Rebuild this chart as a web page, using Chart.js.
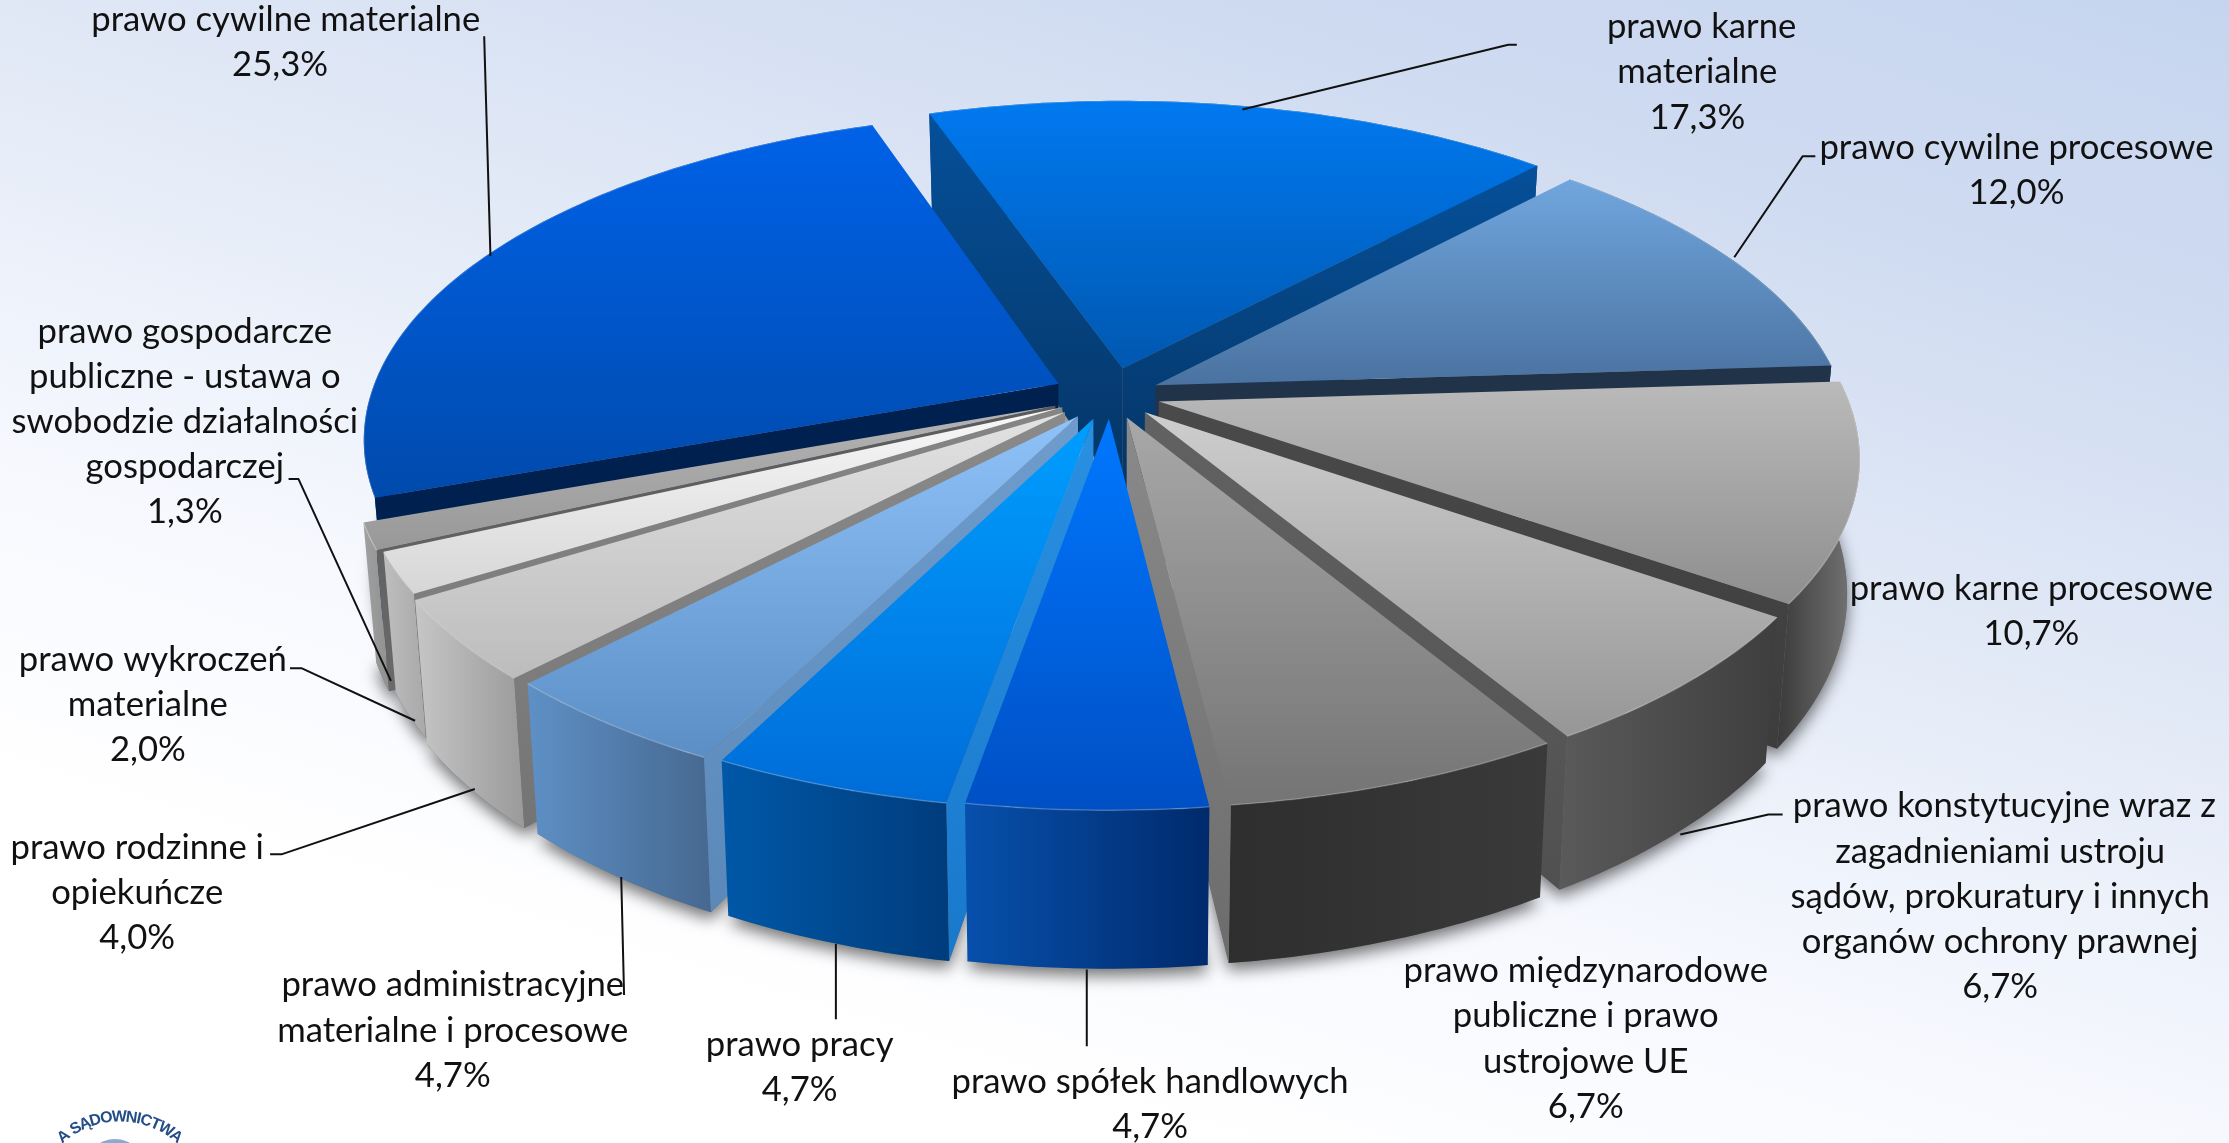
<!DOCTYPE html>
<html lang="pl"><head><meta charset="utf-8">
<style>
html,body{margin:0;padding:0;width:2229px;height:1143px;overflow:hidden;
background:linear-gradient(197deg,#c6d5ef 0%,#cfdbf1 18%,#e4ebf7 42%,#f6f8fe 62%,#ffffff 80%);}
canvas{display:block}
</style>
<script src="https://cdn.jsdelivr.net/npm/chart.js@4"></script>
</head><body><canvas id="c" width="2229" height="1143"></canvas>
<script>
const categories=["prawo karne materialne","prawo cywilne procesowe","prawo karne procesowe","prawo konstytucyjne wraz z zagadnieniami ustroju sądów, prokuratury i innych organów ochrony prawnej","prawo międzynarodowe publiczne i prawo ustrojowe UE","prawo spółek handlowych","prawo pracy","prawo administracyjne materialne i procesowe","prawo rodzinne i opiekuńcze","prawo wykroczeń materialne","prawo gospodarcze publiczne - ustawa o swobodzie działalności gospodarczej","prawo cywilne materialne"];
const values=[17.3,12.0,10.7,6.7,6.7,4.7,4.7,4.7,4.0,2.0,1.3,25.3];
const labelLines=[["prawo karne","materialne"],["prawo cywilne procesowe"],["prawo karne procesowe"],["prawo konstytucyjne wraz z","zagadnieniami ustroju","sądów, prokuratury i innych","organów ochrony prawnej"],["prawo międzynarodowe","publiczne i prawo","ustrojowe UE"],["prawo spółek handlowych"],["prawo pracy"],["prawo administracyjne","materialne i procesowe"],["prawo rodzinne i","opiekuńcze"],["prawo wykroczeń","materialne"],["prawo gospodarcze","publiczne - ustawa o","swobodzie działalności","gospodarczej"],["prawo cywilne materialne"]];
// styles
const topColors=[["#0079F0","#0058B0"],["#70A6DE","#4A72A0"],["#BABABA","#8E8E8E"],["#CECECE","#969696"],["#A8A8A8","#747474"],["#0078FF","#004FC4"],["#009EFF","#006CD8"],["#8EC2F8","#5C8EC6"],["#E2E2E2","#BCBCBC"],["#F8F8F8","#D6D6D6"],["#B4B4B4","#989898"],["#0062E8","#004AAC"]];
const wallColors=[["#004A90","#003A70"],["#203349","#203349"],["#3A3A3A","#7A7A7A"],["#5A5A5A","#3E3E3E"],["#2E2E2E","#3A3A3A"],["#0750AC","#002A6C"],["#0058A8","#003C7C"],["#5E90C6","#466890"],["#C6C6C6","#9A9A9A"],["#BEBEBE","#A8A8A8"],["#A0A0A0","#909090"],["#0040A0","#003080"]];
const cutColors=[["#05509A","#053463"],["#203349","#22344A"],["#4A4A4A","#3C3C3C"],["#626262","#505050"],["#8A8A8A","#6C6C6C"],["#5C7080","#8A8A8A"],["#2A90E2","#1878CC"],["#6E9CCC","#5A88B8"],["#8A8A8A","#747474"],["#858585","#787878"],["#5A5A5A","#6A6A6A"],["#00214F","#00214F"]];
const sliceOffsets=[48,40,40,40,40,40,42,44,46,43,47,46];
// layout (in a 1568-wide reference frame)
const K=2229/1568;
const view={cx:781,cy:278,rx:484,ry:224.5,persp:0.163,depth:92,converge:0.017};
const labelPos=[[1194,19],[1418.5,104],[1429,414],[1407,567],[1115.5,683],[809,761],[562.5,735],[318.5,693],[96.5,596],[104,464],[130,233],[197,14]];
const firstLineShift=[3,0,0,3,0,0,0,0,0,3.5,0,4];
const lineStep=31.8;
const leaders=[[[1067,31.5],[1061,31.5],[874,77]],[[1277,110],[1268,110],[1220,181]],null,[[1254,573],[1244,573],[1182,587]],null,[[764.5,682],[764.5,736]],[[588,664],[588,717]],[[437,617],[439,700]],[[190,601],[198,601],[334,555]],[[204,470],[212,470],[292,507]],[[203,337],[210,337],[275,479]],[[340.6,25.5],[345,180]]];

function project(u,v,z){
  const w=1/(1-view.persp*v), c=1-view.converge*z;
  return [(view.cx+view.rx*u*w*c)*K,(view.cy+view.ry*v*w+view.depth*z*w)*K];
}
function pathOf(ctx,pts){ctx.beginPath();pts.forEach((p,i)=>i?ctx.lineTo(p[0],p[1]):ctx.moveTo(p[0],p[1]));ctx.closePath();}
function vGrad(ctx,pts,cols,horizontal){
  const a=horizontal?0:1, vals=pts.map(p=>p[a]), lo=Math.min(...vals), hi=Math.max(...vals);
  const g=horizontal?ctx.createLinearGradient(lo,0,hi+1,0):ctx.createLinearGradient(0,lo,0,hi+1);
  g.addColorStop(0,cols[0]);g.addColorStop(1,cols[1]);return g;
}
function sliceGeom(el,i){
  const p=el.getProps(['startAngle','endAngle','outerRadius']);
  const R=p.outerRadius, o=(el.options.offset||0)/R, mid=(p.startAngle+p.endAngle)/2;
  const ox=Math.cos(mid)*o, oy=Math.sin(mid)*o, n=Math.max(8,Math.ceil((p.endAngle-p.startAngle)*60));
  const rim=[];
  for(let k=0;k<=n;k++){const a=p.startAngle+(p.endAngle-p.startAngle)*k/n;rim.push([Math.cos(a)+ox,Math.sin(a)+oy]);}
  return {i,mid,ox,oy,rim,depth:Math.sin(mid),a0:p.startAngle,a1:p.endAngle};
}
const pie3d={
  id:'pie3d',
  beforeDatasetDraw(chart,args){
    const ctx=chart.ctx, slices=chart.getDatasetMeta(args.index).data.map(sliceGeom);
    // soft ground shadow
    ctx.save();ctx.shadowColor='rgba(0,0,0,0.55)';ctx.shadowBlur=16;ctx.shadowOffsetY=7;ctx.shadowOffsetX=0;ctx.fillStyle='#777';
    slices.forEach(s=>{
      const b=[project(s.ox,s.oy,1),...s.rim.map(q=>project(q[0],q[1],1))];
      pathOf(ctx,b);ctx.fill();
    });
    ctx.restore();
    const camV=1/view.persp;
    [...slices].sort((a,b)=>a.depth-b.depth).forEach(s=>{
      const i=s.i, first=s.rim[0], last=s.rim[s.rim.length-1];
      const quad=q=>[project(s.ox,s.oy,0),project(q[0],q[1],0),project(q[0],q[1],1),project(s.ox,s.oy,1)];
      const wall=[...s.rim.map(q=>project(q[0],q[1],0)),...[...s.rim].reverse().map(q=>project(q[0],q[1],1))];
      pathOf(ctx,wall);ctx.fillStyle=vGrad(ctx,wall,wallColors[i],true);ctx.fill();
      // each cut face is painted only when it looks towards the viewer
      const startFaces=Math.sin(s.a0)*(-s.ox)-Math.cos(s.a0)*(camV-s.oy)>0;
      const endFaces=-Math.sin(s.a1)*(-s.ox)+Math.cos(s.a1)*(camV-s.oy)>0;
      if(startFaces){const pts=quad(first);pathOf(ctx,pts);ctx.fillStyle=vGrad(ctx,pts,cutColors[i]);ctx.fill();}
      if(endFaces){const pts=quad(last);pathOf(ctx,pts);ctx.fillStyle=vGrad(ctx,pts,cutColors[i]);ctx.fill();}
      const top=[project(s.ox,s.oy,0),...s.rim.map(q=>project(q[0],q[1],0))];
      pathOf(ctx,top);ctx.fillStyle=vGrad(ctx,top,topColors[i]);ctx.fill();
      ctx.beginPath();s.rim.forEach((q,k)=>{const p=project(q[0],q[1],0);k?ctx.lineTo(p[0],p[1]):ctx.moveTo(p[0],p[1]);});
      ctx.strokeStyle='rgba(255,255,255,0.22)';ctx.lineWidth=1.5;ctx.stroke();
    });
    return false;
  },
  afterDraw(chart){
    const ctx=chart.ctx;
    ctx.save();
    ctx.strokeStyle='#111';ctx.lineWidth=2;ctx.lineJoin='round';
    leaders.forEach(l=>{if(!l)return;ctx.beginPath();l.forEach((p,k)=>k?ctx.lineTo(p[0]*K,p[1]*K):ctx.moveTo(p[0]*K,p[1]*K));ctx.stroke();});
    ctx.font='35px Lato';ctx.textAlign='center';ctx.textBaseline='middle';ctx.fillStyle='#111';
    const squeeze=389/ctx.measureText('prawo cywilne materialne').width;
    labelLines.forEach((ls,i)=>{
      const all=[...ls,values[i].toFixed(1).replace('.',',')+'%'];
      all.forEach((t,k)=>{
        const w=ctx.measureText(t).width*squeeze;
        const x=labelPos[i][0]+(k===0?firstLineShift[i]:0);
        ctx.fillText(t,x*K,(labelPos[i][1]+k*lineStep)*K,w);
      });
    });
    // partial logo at the lower-left edge
    const lx=120,ly=1207;
    ctx.fillStyle='#8BA9D5';ctx.beginPath();ctx.arc(115,1169,30,0,Math.PI*2);ctx.fill();
    ctx.fillStyle='#234E86';ctx.font='bold 16px "Liberation Sans"';
    const logo='A SĄDOWNICTWA';
    const widths=[...logo].map(ch=>ctx.measureText(ch).width), total=widths.reduce((a,b)=>a+b,0);
    const span=84*Math.PI/180;
    let run=0;
    [...logo].forEach((ch,k)=>{
      const ang=(run+widths[k]/2)/total*span-span/2; run+=widths[k];
      ctx.save();ctx.translate(lx+Math.sin(ang)*90,ly-Math.cos(ang)*90);ctx.rotate(ang);ctx.fillText(ch,0,0);ctx.restore();
    });
    ctx.restore();
  }
};
new Chart(document.getElementById('c'),{
  type:'pie',
  data:{labels:categories,datasets:[{data:values,backgroundColor:topColors.map(c=>c[0]),borderWidth:0,offset:sliceOffsets}]},
  options:{responsive:false,devicePixelRatio:1,animation:false,rotation:-19,
    layout:{padding:0},plugins:{legend:{display:false},tooltip:{enabled:false},title:{display:false}}},
  plugins:[pie3d]
});
</script></body></html>
